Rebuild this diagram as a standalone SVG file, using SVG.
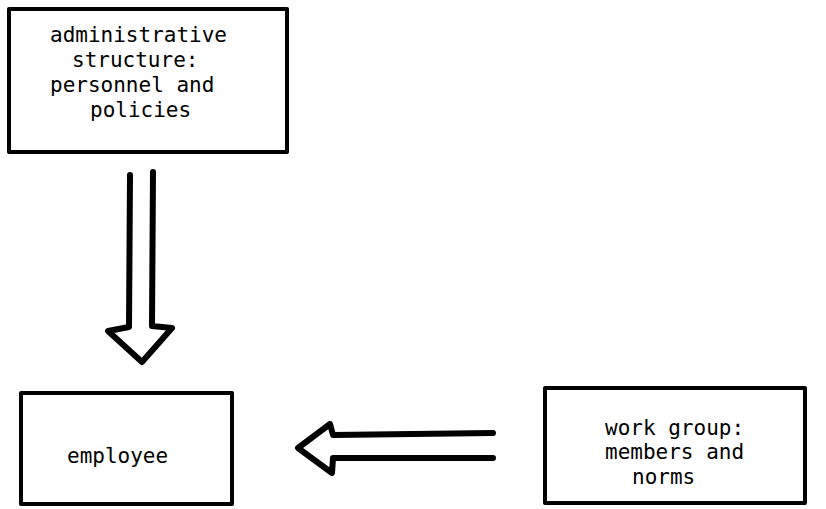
<svg xmlns="http://www.w3.org/2000/svg" width="826" height="509" viewBox="0 0 826 509">
<style>
.box{fill:#fff;stroke:#000;stroke-width:4;stroke-linejoin:round}
.t{font-family:"DejaVu Sans Mono","Liberation Mono",monospace;font-size:21px;fill:#000}
.arr{fill:none;stroke:#000;stroke-width:6;stroke-linecap:round;stroke-linejoin:round}
</style>
<rect width="826" height="509" fill="#fff"/>
<g id="admin">
<rect class="box" x="9" y="9" width="278" height="143"/>
<text class="t" x="50" y="42">administrative</text>
<text class="t" x="72" y="67">structure:</text>
<text class="t" x="50" y="92">personnel and</text>
<text class="t" x="90" y="117">policies</text>
</g>
<g id="employee">
<rect class="box" x="21" y="393" width="211" height="111"/>
<text class="t" x="67" y="463">employee</text>
</g>
<g id="workgroup">
<rect class="box" x="545" y="388" width="260" height="115"/>
<text class="t" x="605" y="435">work group:</text>
<text class="t" x="605" y="459">members and</text>
<text class="t" x="632" y="484">norms</text>
</g>
<g id="connectors">
<path class="arr" d="M130,175 L129,327 L108,331 L142,362 L172,328 L152,326 L153,172"/>
<path class="arr" d="M493,433 L333,435 L330,424 L298,448 L332,473 L333,458 L493,458"/>
</g>
</svg>
